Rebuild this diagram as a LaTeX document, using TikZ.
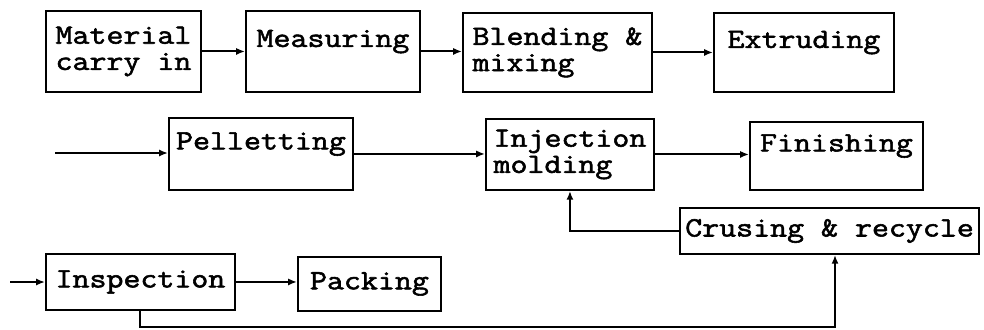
\documentclass[tikz,border=0pt]{standalone}
\usepackage{fontspec}
\setmonofont{Latin Modern Mono}[FakeStretch=1.18, FakeBold=2]
\usepackage{tikz}
\usetikzlibrary{arrows.meta}

\tikzset{
	box/.style={draw, line width=1.1pt, anchor=north west, align=left, inner sep=3pt,
		font=\fontsize{15.9}{14.9}\selectfont\ttfamily},
	arr/.style={line width=1.1pt, -{Latex[length=5pt,width=4pt]}}
}

\begin{document}
\begin{tikzpicture}[x=0.02cm, y=-0.02cm]
	\useasboundingbox (0,0) rectangle (984,329);
	%\draw[help lines] (0,0) grid[step=50] (984,329);
	\node[box, minimum width=3.1cm, minimum height=1.62cm] (mat) at (45,10) {Material\\carry in};
	\node[box, minimum width=3.48cm, minimum height=1.62cm] (meas) at (245,10) {Measuring\\\mbox{}};
	\node[box, minimum width=3.78cm, minimum height=1.58cm] (blend) at (462,12) {Blending \&\\mixing};
	\node[box, minimum width=3.6cm, minimum height=1.58cm] (extr) at (713,12) {Extruding\\\mbox{}};
	\node[box, minimum width=3.68cm, minimum height=1.44cm] (pell) at (168,117) {Pelletting\\\mbox{}};
	\node[box, minimum width=3.36cm, minimum height=1.42cm] (inj) at (485,118) {Injection\\molding};
	\node[box, minimum width=3.46cm, minimum height=1.36cm] (fin) at (749,121) {Finishing\\\mbox{}};
	\node[box, minimum width=5.92cm, minimum height=0.92cm] (crus) at (679,207) {Crusing \& recycle};
	\node[box, minimum width=3.78cm, minimum height=1.12cm] (insp) at (45,253) {Inspection};
	\node[box, minimum width=2.86cm, minimum height=1.08cm] (pack) at (297,256) {Packing};
	\coordinate (in1) at (55,153);
	\coordinate (in2) at (10,282);
	\coordinate (ret) at (835,327);
	% first line
	\draw[arr] (mat.east) -- (mat.east -| meas.west);
	\draw[arr] (meas.east) -- (meas.east -| blend.west);
	\draw[arr] (blend.east) -- (blend.east -| extr.west);
	% second line
	\draw[arr] (in1) -- (in1 -| pell.west);
	\draw[arr] (pell.east) -- (pell.east -| inj.west);
	\draw[arr] (inj.east) -- (inj.east -| fin.west);
	\draw[arr] (crus.west) -| (inj.south);
	% third line
	\draw[arr] (in2) -- (in2 -| insp.west);
	\draw[arr] (insp.east) -- (insp.east -| pack.west);
	\draw[arr] (insp.south) |- (ret) -- (ret |- crus.south);
\end{tikzpicture}
\end{document}
